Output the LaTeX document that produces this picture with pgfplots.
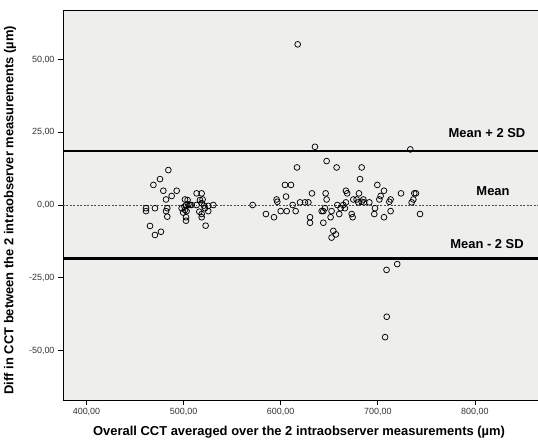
\documentclass[border=0pt]{standalone}
\usepackage{fontspec}
\setmainfont{Liberation Sans}
\usepackage{pgfplots}
\usepackage{pgfplotstable}
\pgfplotsset{compat=1.18}
\definecolor{panel}{RGB}{238,238,237}

% averaged CCT vs difference
\pgfplotstableread{
x y
617.5 55.2
635.3 20.0
733.5 19.1
709.2 -38.4
707.5 -45.4
709.0 -22.3
720.0 -20.3
484.3 12.0
468.9 6.9
475.7 8.9
479.1 4.9
487.7 3.1
492.9 4.9
481.9 1.9
461.3 -1.1
461.3 -2.1
470.5 -1.1
481.9 -2.1
483.2 -1.1
483.2 -4.0
465.4 -7.2
470.5 -10.3
476.7 -9.2
501.4 1.9
504.1 1.7
498.0 -1.1
500.9 -0.6
502.6 0.0
505.0 0.2
501.4 -1.7
503.1 -2.1
499.6 -2.6
502.5 -4.2
502.5 -5.4
506.6 0.0
508.3 0.0
513.4 4.0
518.6 4.0
516.9 1.7
519.6 1.9
513.4 0.0
518.6 0.6
521.0 -0.2
516.2 -2.3
518.6 -3.1
518.6 -4.2
525.4 -0.3
525.4 -2.1
530.6 0.0
522.7 -7.1
522.0 -1.1
571.1 0.0
584.8 -3.1
593.1 -4.2
595.8 1.9
596.5 1.1
600.0 -2.1
606.2 -2.1
605.5 2.9
604.4 6.9
610.6 6.9
612.3 0.0
615.4 -2.1
616.8 12.9
619.9 0.9
625.0 0.9
628.5 0.9
630.2 -4.2
630.2 -6.1
632.2 4.0
643.9 -6.1
642.2 -2.1
643.9 -2.1
645.6 -1.1
646.3 4.0
647.3 1.9
647.3 15.1
651.4 -4.2
652.4 -2.1
654.2 -8.9
656.9 -10.1
652.4 -11.2
657.6 12.9
658.3 0.0
660.3 -3.1
661.7 -1.1
664.4 0.0
666.1 -1.1
667.2 4.9
668.5 4.0
667.2 0.9
673.1 -3.1
674.1 -4.2
674.8 1.9
678.2 1.9
680.6 4.0
681.7 8.9
679.9 0.9
683.4 12.9
683.4 1.1
685.1 1.9
685.8 0.9
691.3 0.9
696.4 -3.1
697.1 -1.1
699.5 6.9
701.6 1.9
702.9 3.1
706.4 -4.2
706.4 4.9
711.9 1.1
713.2 1.9
713.2 -2.1
723.9 4.0
734.9 0.9
736.6 1.9
737.6 4.0
739.3 4.0
743.5 -3.1
}\cctdata

\begin{document}
\begin{tikzpicture}
\useasboundingbox (-63bp,-40bp) rectangle (475bp,400bp);
\begin{axis}[
  at={(0,0)}, anchor=south west,
  scale only axis, width=475bp, height=390bp,
  xmin=375.8, xmax=865, ymin=-67, ymax=67,
  axis x line*=bottom, axis y line*=left,
  axis line style={black, line width=0.8pt},
  axis background/.style={fill=panel},
  xtick={400,500,600,700,800},
  ytick={-50,-25,0,25,50},
  tick align=outside, major tick length=5bp,
  tick style={black, line width=0.6pt},
  /pgf/number format/fixed,
  /pgf/number format/fixed zerofill,
  /pgf/number format/precision=2,
  /pgf/number format/use comma,
  /pgf/number format/assume math mode=true,
  ticklabel style={font=\fontsize{9}{10}\selectfont, color=black!80},
  xlabel={Overall CCT averaged over the 2 intraobserver measurements (µm)},
  ylabel={Diff in CCT between the 2 intraobserver measurements (µm)},
  every axis x label/.style={at={(axis description cs:0.497,-0.082)}, anchor=center,
    font=\fontsize{13}{15}\selectfont\bfseries},
  every axis y label/.style={at={(axis description cs:-0.1116,0.487)}, anchor=center, rotate=90,
    font=\fontsize{13}{15}\selectfont\bfseries},
  clip=true,
]
\addplot[black, line width=2.6pt] coordinates {(375.8,18.5) (865,18.5)};
\addplot[black, line width=2.6pt] coordinates {(375.8,-18.3) (865,-18.3)};
\addplot[black!70, dash pattern=on 2pt off 1.5pt, line width=0.6pt] coordinates {(375.8,0) (865,0)};
\addplot[only marks, mark=o, mark size=2.9bp, mark options={black, line width=0.75pt}] table[x=x, y=y] {\cctdata};
\draw[black, line width=0.8pt] (rel axis cs:0,1) -- (rel axis cs:1,1);
\node[font=\fontsize{13}{15}\selectfont\bfseries] at (axis cs:812.5,24.8) {Mean + 2 SD};
\node[font=\fontsize{13}{15}\selectfont\bfseries] at (axis cs:818.7,4.8) {Mean};
\node[font=\fontsize{13}{15}\selectfont\bfseries] at (axis cs:812.5,-13.4) {Mean - 2 SD};
\end{axis}
\end{tikzpicture}
\end{document}
